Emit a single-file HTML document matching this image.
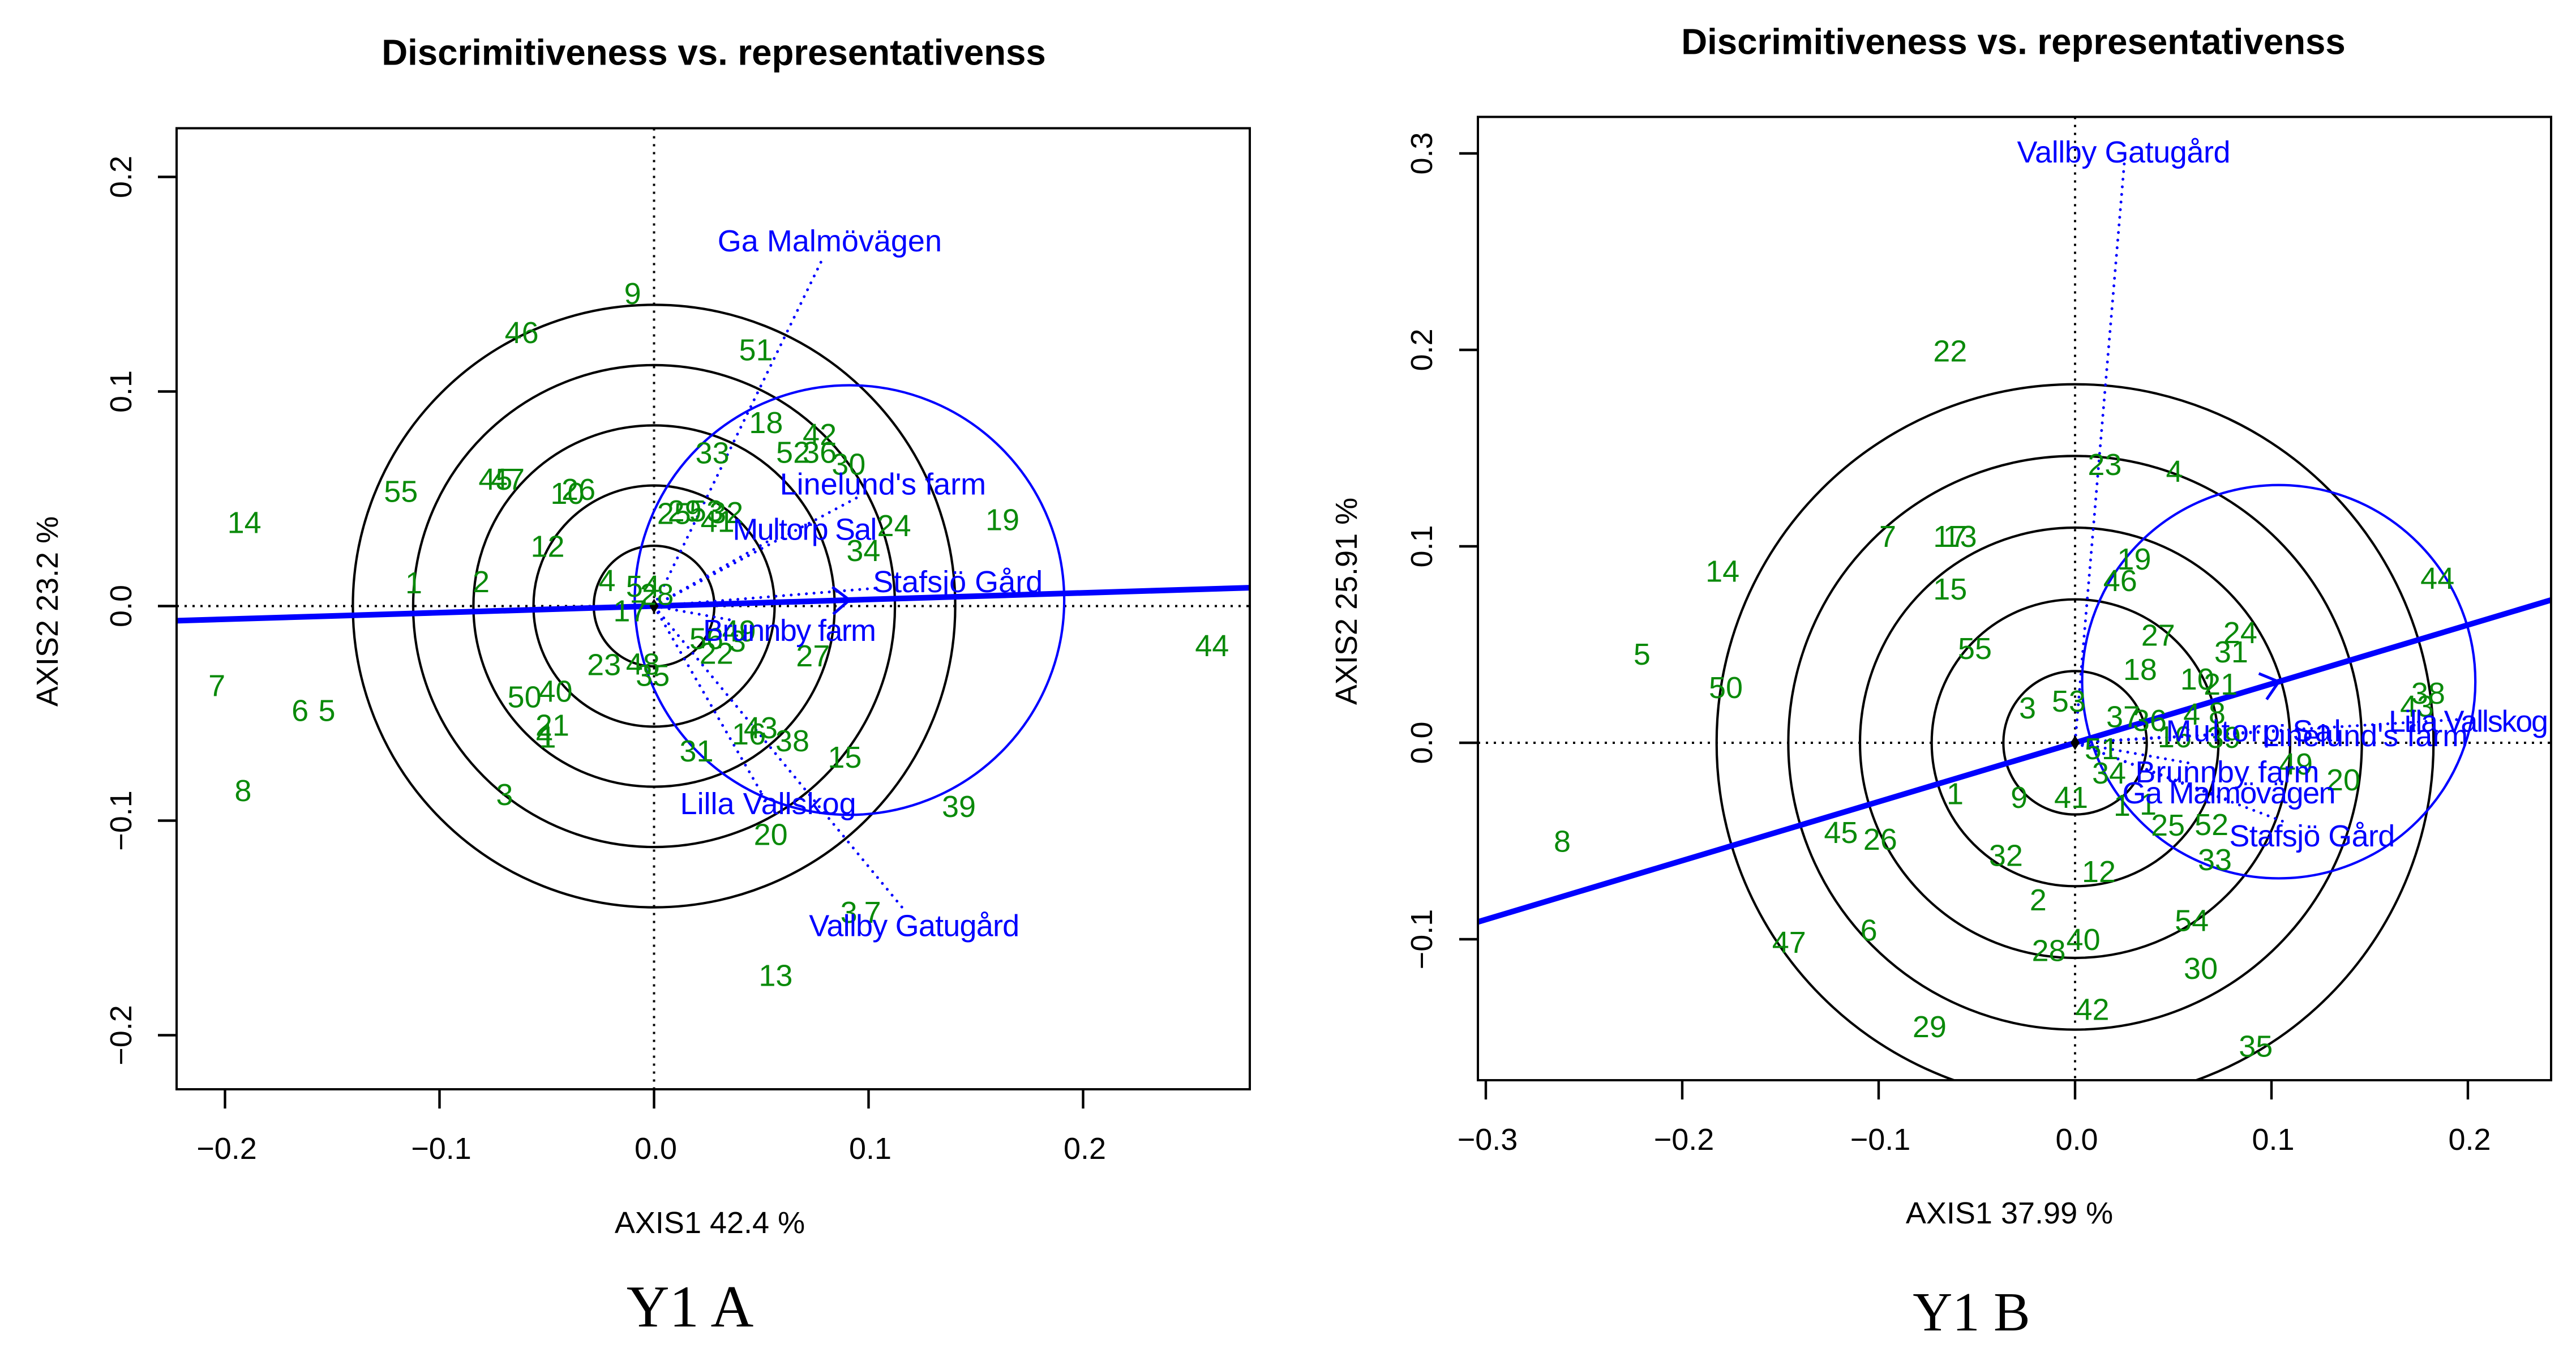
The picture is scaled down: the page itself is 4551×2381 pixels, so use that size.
<!DOCTYPE html>
<html lang="en">
<head>
<meta charset="utf-8">
<title>Discrimitiveness vs. representativenss</title>
<style>
html,body{margin:0;padding:0;background:#fff;}
svg{display:block;}
text{font-family:"Liberation Sans",sans-serif;}
</style>
</head>
<body>
<svg id="figure" xmlns="http://www.w3.org/2000/svg" width="4551" height="2381" viewBox="0 0 4551 2381">
<rect x="0" y="0" width="4551" height="2381" fill="#ffffff"/>
<text x="1219" y="2343" text-anchor="middle" style="font-family:'Liberation Serif',serif;font-size:105px" fill="#000">Y1 A</text>
<text x="3483" y="2350" text-anchor="middle" style="font-family:'Liberation Serif',serif;font-size:97px" fill="#000">Y1 B</text>
</svg>
<script>
// ---- Panel A data ----
const aXTicks = [-0.2, -0.1, 0.0, 0.1, 0.2];
const aYTicks = [-0.2, -0.1, 0.0, 0.1, 0.2];
const aCircleRadii = [0.0281, 0.0562, 0.0842, 0.1123, 0.1404];
const aMeanEnv = [0.0911, 0.0028];
const aMeanRadius = 0.1001;
const aGenotypes = ['9','46','51','18','42','52','36','30','33','55','45','47','10','26','14','1','2','12','4','54','28','17','25','29','53','32','41','24','19','34','27','22','56','49','3','23','48','35','50','40','21','4','1','31','16','43','38','15','7','6','5','8','3','39','20','13','3','7','44'];
const aGenoX = [-0.0100,-0.0617,0.0475,0.0522,0.0772,0.0648,0.0772,0.0907,0.0272,-0.1180,-0.0739,-0.0682,-0.0404,-0.0352,-0.1910,-0.1120,-0.0806,-0.0496,-0.0219,-0.0052,0.0013,-0.0111,0.0093,0.0143,0.0244,0.0337,0.0296,0.1119,0.1624,0.0976,0.0741,0.0291,0.0244,0.0396,0.0389,-0.0233,-0.0052,-0.0006,-0.0604,-0.0459,-0.0474,-0.0511,-0.0496,0.0198,0.0442,0.0497,0.0645,0.0889,-0.2038,-0.1650,-0.1525,-0.1916,-0.0697,0.1421,0.0544,0.0567,0.0908,0.1019,0.2601];
const aGenoY = [0.1457,0.1276,0.1195,0.0856,0.0801,0.0718,0.0718,0.0662,0.0715,0.0535,0.0592,0.0592,0.0526,0.0544,0.0390,0.0109,0.0114,0.0279,0.0120,0.0094,0.0055,-0.0021,0.0432,0.0444,0.0444,0.0436,0.0395,0.0376,0.0403,0.0259,-0.0231,-0.0219,-0.0151,-0.0115,-0.0163,-0.0272,-0.0269,-0.0322,-0.0422,-0.0396,-0.0554,-0.0598,-0.0610,-0.0675,-0.0595,-0.0566,-0.0627,-0.0704,-0.0369,-0.0486,-0.0486,-0.0859,-0.0877,-0.0933,-0.1063,-0.1720,-0.1427,-0.1427,-0.0183];
const aEnvNames = ['Ga Malmövägen',"Linelund's farm",'Multorp Sal','Stafsjö Gård','Brunnby farm','Lilla Vallskog','Vallby Gatugård'];
const aEnvX = [0.0793,0.0970,0.0532,0.1030,0.0358,0.0500,0.1162];
const aEnvY = [0.1634,0.0518,0.0302,0.0083,-0.0065,-0.0870,-0.1411];
const aEnvLabelX = [0.0819,0.1067,0.0703,0.1416,0.0632,0.0532,0.1213];
const aEnvLabelY = [0.1703,0.0569,0.0358,0.0115,-0.0112,-0.0920,-0.1489];

// ---- Panel B data ----
const bXTicks = [-0.3, -0.2, -0.1, 0.0, 0.1, 0.2];
const bYTicks = [-0.1, 0.0, 0.1, 0.2, 0.3];
const bCircleRadii = [0.0365, 0.0730, 0.1095, 0.1460, 0.1825];
const bMeanEnv = [0.1037, 0.0311];
const bMeanRadius = 0.1001;
const bGenotypes = ['22','23','4','7','17','13','14','19','46','15','44','5','55','27','24','31','18','10','21','50','38','43','3','53','37','36','4','8','16','39','51','34','49','20','9','41','1','1','25','52','33','32','12','2','1','8','45','26','47','6','28','40','54','30','42','29','35'];
const bGenoX = [-0.0636,0.0151,0.0506,-0.0954,-0.0636,-0.0586,-0.1795,0.0301,0.0230,-0.0636,0.1845,-0.2205,-0.0510,0.0423,0.0841,0.0795,0.0331,0.0622,0.0741,-0.1778,0.1798,0.1741,-0.0242,-0.0032,0.0245,0.0380,0.0594,0.0723,0.0507,0.0758,0.0135,0.0173,0.1124,0.1366,-0.0285,-0.0020,0.0239,0.0372,0.0473,0.0695,0.0712,-0.0352,0.0121,-0.0188,-0.0611,-0.2611,-0.1192,-0.0992,-0.1456,-0.1050,-0.0134,0.0042,0.0594,0.0640,0.0088,-0.0741,0.0920];
const bGenoY = [0.1996,0.1418,0.1383,0.1052,0.1052,0.1052,0.0875,0.0937,0.0827,0.0783,0.0838,0.0452,0.0481,0.0549,0.0562,0.0463,0.0375,0.0326,0.0300,0.0282,0.0254,0.0187,0.0179,0.0213,0.0133,0.0115,0.0147,0.0153,0.0032,0.0029,-0.0029,-0.0153,-0.0107,-0.0187,-0.0277,-0.0277,-0.0317,-0.0311,-0.0418,-0.0415,-0.0594,-0.0573,-0.0654,-0.0798,-0.0258,-0.0501,-0.0456,-0.0490,-0.1014,-0.0953,-0.1056,-0.1001,-0.0904,-0.1147,-0.1356,-0.1444,-0.1544];
const bEnvNames = ['Vallby Gatugård','Multorp Sal',"Linelund's farm",'Lilla Vallskog','Brunnby farm','Ga Malmövägen','Stafsjö Gård'];
const bEnvX = [0.0251,0.0447,0.1066,0.1991,0.0602,0.0775,0.1066];
const bEnvY = [0.2954,0.0029,0.0061,0.0121,-0.0107,-0.0288,-0.0403];
const bEnvLabelX = [0.0248,0.0908,0.1476,0.2003,0.0775,0.0784,0.1207];
const bEnvLabelY = [0.3009,0.0061,0.0037,0.0110,-0.0147,-0.0254,-0.0473];

const SVG_NS = 'http://www.w3.org/2000/svg';
const BLUE = '#0000ff';
const GREEN = '#0a8a0a';
const FONT = 54;
const figure = document.getElementById('figure');

function node(parent, tag, attrs, content) {
  const el = document.createElementNS(SVG_NS, tag);
  Object.keys(attrs).forEach(function (k) { el.setAttribute(k, attrs[k]); });
  if (content !== undefined) el.textContent = content;
  parent.appendChild(el);
  return el;
}

function tickText(v) {
  const s = Math.abs(v).toFixed(1);
  return v < 0 ? '\u2212' + s : s;
}

function drawPanel(cfg) {
  const sx = function (v) { return cfg.x0 + v * cfg.unit; };
  const sy = function (v) { return cfg.y0 - v * cfg.unit; };
  const g = node(figure, 'g', {});
  
  

  const clip = node(g, 'clipPath', { id: cfg.id + '-clip' });
  node(clip, 'rect', { x: cfg.left, y: cfg.top, width: cfg.right - cfg.left, height: cfg.bottom - cfg.top });
  const plot = node(g, 'g', { 'clip-path': 'url(#' + cfg.id + '-clip)' });
  
  

  // concentric circles
  cfg.radii.forEach(function (r) {
    const c = node(plot, 'circle', { cx: sx(0), cy: sy(0), r: r * cfg.unit, fill: 'none', stroke: '#000', 'stroke-width': 4.2 });
    
    
  });

  // dotted origin axes
  const hz = node(plot, 'line', { x1: cfg.left, y1: sy(0), x2: cfg.right, y2: sy(0), stroke: '#000', 'stroke-width': 4, 'stroke-dasharray': '4 10' });
  
  
  const vt = node(plot, 'line', { x1: sx(0), y1: cfg.top, x2: sx(0), y2: cfg.bottom, stroke: '#000', 'stroke-width': 4, 'stroke-dasharray': '4 10' });
  
  

  // average environment circle
  const mean = node(plot, 'circle', { cx: sx(cfg.meanEnv[0]), cy: sy(cfg.meanEnv[1]), r: cfg.meanRadius * cfg.unit, fill: 'none', stroke: BLUE, 'stroke-width': 4.2 });
  
  

  // average environment axis through the origin
  const slope = cfg.meanEnv[1] / cfg.meanEnv[0];
  const xA = (cfg.left - cfg.x0) / cfg.unit;
  const xB = (cfg.right - cfg.x0) / cfg.unit;
  const axisLine = node(plot, 'line', { x1: sx(xA), y1: sy(xA * slope), x2: sx(xB), y2: sy(xB * slope), stroke: BLUE, 'stroke-width': 10 });
  
  

  // arrow to mean environment
  const tx = sx(cfg.meanEnv[0]), ty = sy(cfg.meanEnv[1]);
  const ang = Math.atan2(ty - sy(0), tx - sx(0));
  const arm = 38, spread = 0.68;
  const head = node(plot, 'path', {
    d: 'M' + (tx - arm * Math.cos(ang - spread)) + ' ' + (ty - arm * Math.sin(ang - spread)) +
       'L' + tx + ' ' + ty +
       'L' + (tx - arm * Math.cos(ang + spread)) + ' ' + (ty - arm * Math.sin(ang + spread)),
    fill: 'none', stroke: BLUE, 'stroke-width': 5
  });
  
  

  // environment rays
  cfg.envNames.forEach(function (name, i) {
    const ray = node(plot, 'line', { x1: sx(0), y1: sy(0), x2: sx(cfg.envX[i]), y2: sy(cfg.envY[i]), stroke: BLUE, 'stroke-width': 5, 'stroke-linecap': 'round', 'stroke-dasharray': '0.1 13.4' });
    
    
  });

  // origin marker
  const diamond = node(plot, 'polygon', {
    points: (sx(0) - 8) + ',' + sy(0) + ' ' + sx(0) + ',' + (sy(0) - 13) + ' ' + (sx(0) + 8) + ',' + sy(0) + ' ' + sx(0) + ',' + (sy(0) + 13),
    fill: '#000'
  });
  
  

  // box
  const box = node(g, 'rect', { x: cfg.left, y: cfg.top, width: cfg.right - cfg.left, height: cfg.bottom - cfg.top, fill: 'none', stroke: '#000', 'stroke-width': 4 });
  
  

  // x axis
  cfg.xTicks.forEach(function (v) {
    const t = node(g, 'line', { x1: sx(v), y1: cfg.bottom, x2: sx(v), y2: cfg.bottom + 34, stroke: '#000', 'stroke-width': 4.4 });
    
    
    const l = node(g, 'text', { x: sx(v) + 3, y: cfg.xTickY, dy: '0.35em', 'text-anchor': 'middle', 'font-size': FONT, fill: '#000' }, tickText(v));
    
    
  });

  // y axis
  cfg.yTicks.forEach(function (v) {
    const t = node(g, 'line', { x1: cfg.left - 33, y1: sy(v), x2: cfg.left, y2: sy(v), stroke: '#000', 'stroke-width': 4.4 });
    
    
    const l = node(g, 'text', { x: cfg.yTickX, y: sy(v), dy: '0.35em', 'text-anchor': 'middle', 'font-size': FONT, fill: '#000', transform: 'rotate(-90 ' + cfg.yTickX + ' ' + sy(v) + ')' }, tickText(v));
    
    
  });

  // titles
  const title = node(g, 'text', { x: cfg.titleX, y: cfg.titleY, dy: '0.35em', 'text-anchor': 'middle', 'font-size': 63.6, 'font-weight': 'bold', fill: '#000' }, 'Discrimitiveness vs. representativenss');
  
  
  const xTitle = node(g, 'text', { x: cfg.xTitleX, y: cfg.xTitleY, dy: '0.35em', 'text-anchor': 'middle', 'font-size': FONT, fill: '#000' }, cfg.xTitle);
  
  
  const yTitle = node(g, 'text', { x: cfg.yTitleX, y: cfg.yTitleY, dy: '0.35em', 'text-anchor': 'middle', 'font-size': FONT, fill: '#000', transform: 'rotate(-90 ' + cfg.yTitleX + ' ' + cfg.yTitleY + ')' }, cfg.yTitle);
  
  

  // genotype labels
  cfg.genotypes.forEach(function (label, i) {
    const t = node(g, 'text', { x: sx(cfg.genoX[i]), y: sy(cfg.genoY[i]), dy: '0.35em', 'text-anchor': 'middle', 'font-size': FONT, fill: GREEN }, label);
    
    
  });

  // environment labels
  cfg.envNames.forEach(function (name, i) {
    const t = node(g, 'text', { x: sx(cfg.envLabelX[i]), y: sy(cfg.envLabelY[i]), dy: '0.35em', 'text-anchor': 'middle', 'font-size': FONT, fill: BLUE }, name);
    
    
    if (cfg.labelFit[name]) t.setAttribute('textLength', cfg.labelFit[name]);
  });
}

drawPanel({
  id: 'panel-a', x0: 1155.5, y0: 1070.5, unit: 3790,
  left: 312, right: 2208, top: 226.5, bottom: 1924,
  xTicks: aXTicks, yTicks: aYTicks, radii: aCircleRadii,
  meanEnv: aMeanEnv, meanRadius: aMeanRadius,
  genotypes: aGenotypes, genoX: aGenoX, genoY: aGenoY,
  envNames: aEnvNames, envX: aEnvX, envY: aEnvY, envLabelX: aEnvLabelX, envLabelY: aEnvLabelY,
  labelFit: { 'Multorp Sal': 255, 'Brunnby farm': 306, 'Vallby Gatugård': 372 },
  xTickY: 2028, yTickX: 213,
  titleX: 1261, titleY: 92,
  xTitle: 'AXIS1 42.4 %', xTitleX: 1254, xTitleY: 2159,
  yTitle: 'AXIS2 23.2 %', yTitleX: 83, yTitleY: 1080
});

drawPanel({
  id: 'panel-b', x0: 3666, y0: 1312, unit: 3470,
  left: 2611, right: 4507, top: 206.5, bottom: 1908,
  xTicks: bXTicks, yTicks: bYTicks, radii: bCircleRadii,
  meanEnv: bMeanEnv, meanRadius: bMeanRadius,
  genotypes: bGenotypes, genoX: bGenoX, genoY: bGenoY,
  envNames: bEnvNames, envX: bEnvX, envY: bEnvY, envLabelX: bEnvLabelX, envLabelY: bEnvLabelY,
  labelFit: { 'Vallby Gatugård': 377, 'Multorp Sal': 309, "Linelund's farm": 364, 'Lilla Vallskog': 282, 'Brunnby farm': 325, 'Ga Malmövägen': 377, 'Stafsjö Gård': 293 },
  xTickY: 2012, yTickX: 2511,
  titleX: 3557, titleY: 73,
  xTitle: 'AXIS1 37.99 %', xTitleX: 3550, xTitleY: 2142,
  yTitle: 'AXIS2 25.91 %', yTitleX: 2378, yTitleY: 1062
});
</script>
</body>
</html>
